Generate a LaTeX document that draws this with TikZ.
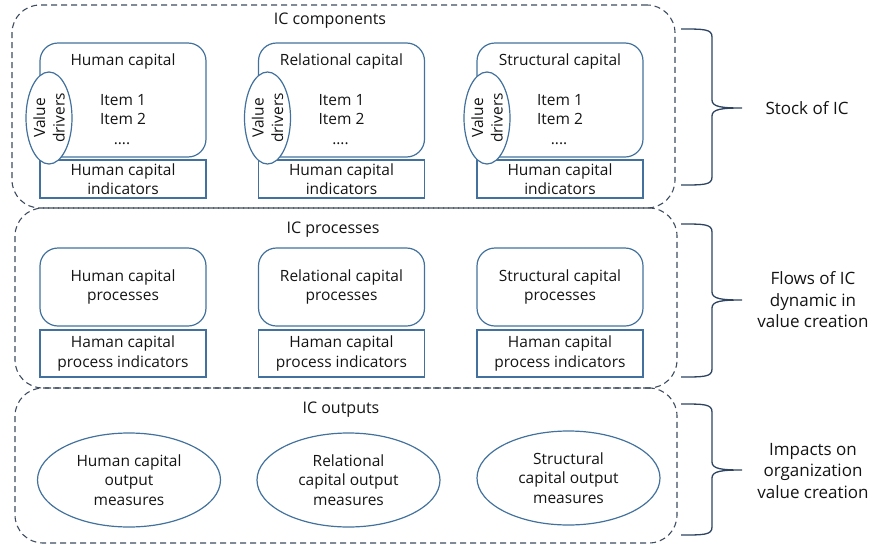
\documentclass[tikz,border=0pt]{standalone}
\usepackage{fontspec}
\setmainfont{Open Sans}
\usetikzlibrary{shapes.geometric}
\definecolor{boxblue}{HTML}{41719C}
\definecolor{dashgray}{HTML}{3E4C60}
\definecolor{bracecol}{HTML}{2E4361}
\definecolor{txt}{HTML}{141414}
\begin{document}
\begin{tikzpicture}[x=1pt,y=-1pt,
  every node/.style={text=txt, inner sep=0pt, outer sep=0pt},
  body/.style={font=\fontsize{15.5}{19.5}\selectfont, align=center},
  ttl/.style={font=\fontsize{16}{19.5}\selectfont},
  lbl/.style={font=\fontsize{17}{21.5}\selectfont, align=center},
  outer/.style={draw=dashgray, dash pattern=on 6pt off 4pt, line width=1.1pt, rounded corners=28pt, minimum width=#1},
  compbox/.style={draw=boxblue, line width=1.2pt, rounded corners=18pt, minimum width=166pt},
  indbox/.style={draw=boxblue, line width=1.2pt, minimum width=166pt},
  vdriver/.style={draw=boxblue, fill=white, line width=1.2pt, ellipse, minimum width=46pt, minimum height=92pt},
  outell/.style={draw=boxblue, line width=1.2pt, ellipse, minimum width=183pt, minimum height=94pt, font=\fontsize{15.5}{19.5}\selectfont, align=center},
  bracestyle/.style={draw=bracecol, line width=1.3pt}]
\useasboundingbox (0,0) rectangle (873,544);

% outer dashed groups
\node[outer=663pt, minimum height=203pt] (g1) at (343.5,106.5) {};
\node[outer=662pt, minimum height=180pt] (g2) at (346,298) {};
\node[outer=662pt, minimum height=155pt] (g3) at (346,465.5) {};

\node[ttl] (t1) at (330,21) {IC components};
\node[ttl] (t2) at (333,230) {IC processes};
\node[ttl] (t3) at (341,410) {IC outputs};

% row 1: components
\foreach \c/\dx/\ex/\name in {a/0/49/Human capital, b/218.5/267.5/Relational capital, c/437/487/Structural capital}{
  \node[compbox, minimum height=114pt] (comp\c) at ({123+\dx},100) {};
  \node[indbox, minimum height=38pt, body] (ind\c) at ({123+\dx},179) {Human capital\\indicators};
  \node[vdriver] (vd\c) at (\ex,118) {};
  \node[body, rotate=90] (vdt\c) at (vd\c.center) {Value\\drivers};
  \node[body] (cn\c) at ({123+\dx},61) {\name};
  \node[body, anchor=base] (i1\c) at ({123+\dx},105.5) {Item 1};
  \node[body, anchor=base] (i2\c) at ({123+\dx},124.5) {Item 2};
  \node[body, anchor=base] (i3\c) at ({122+\dx},144) {....};
}

% row 2: processes
\foreach \c/\dx/\name in {a/0/Human capital, b/218.5/Relational capital, c/437/Structural capital}{
  \node[compbox, minimum height=78pt, body] (proc\c) at ({123+\dx},287) {\name\\processes};
  \node[indbox, minimum height=47pt, body] (pind\c) at ({123+\dx},353.5) {Haman capital\\process indicators};
}

% row 3: outputs
\node[outell] (outa) at (129,480) {Human capital\\output\\measures};
\node[outell] (outb) at (348.5,480) {Relational\\capital output\\measures};
\node[outell] (outc) at (568.5,478) {Structural\\capital output\\measures};

% braces
\foreach \t/\m/\b in {29/108/185, 224/300/377, 404/470/535}{
  \draw[bracestyle] (681,\t) .. controls (704,\t) and (712,\t) .. (712,{\t+8})
    -- (712,{\m-8}) .. controls (712,{\m-1}) and (722,\m) .. (742,\m)
    .. controls (722,\m) and (712,{\m+1}) .. (712,{\m+8})
    -- (712,{\b-8}) .. controls (712,\b) and (704,\b) .. (681,\b);
}

\node[lbl] (l1) at (807,108) {Stock of IC};
\node[lbl] (l2) at (813,300) {Flows of IC\\dynamic in\\value creation};
\node[lbl] (l3) at (813,471) {Impacts on\\organization\\value creation};
\end{tikzpicture}
\end{document}
